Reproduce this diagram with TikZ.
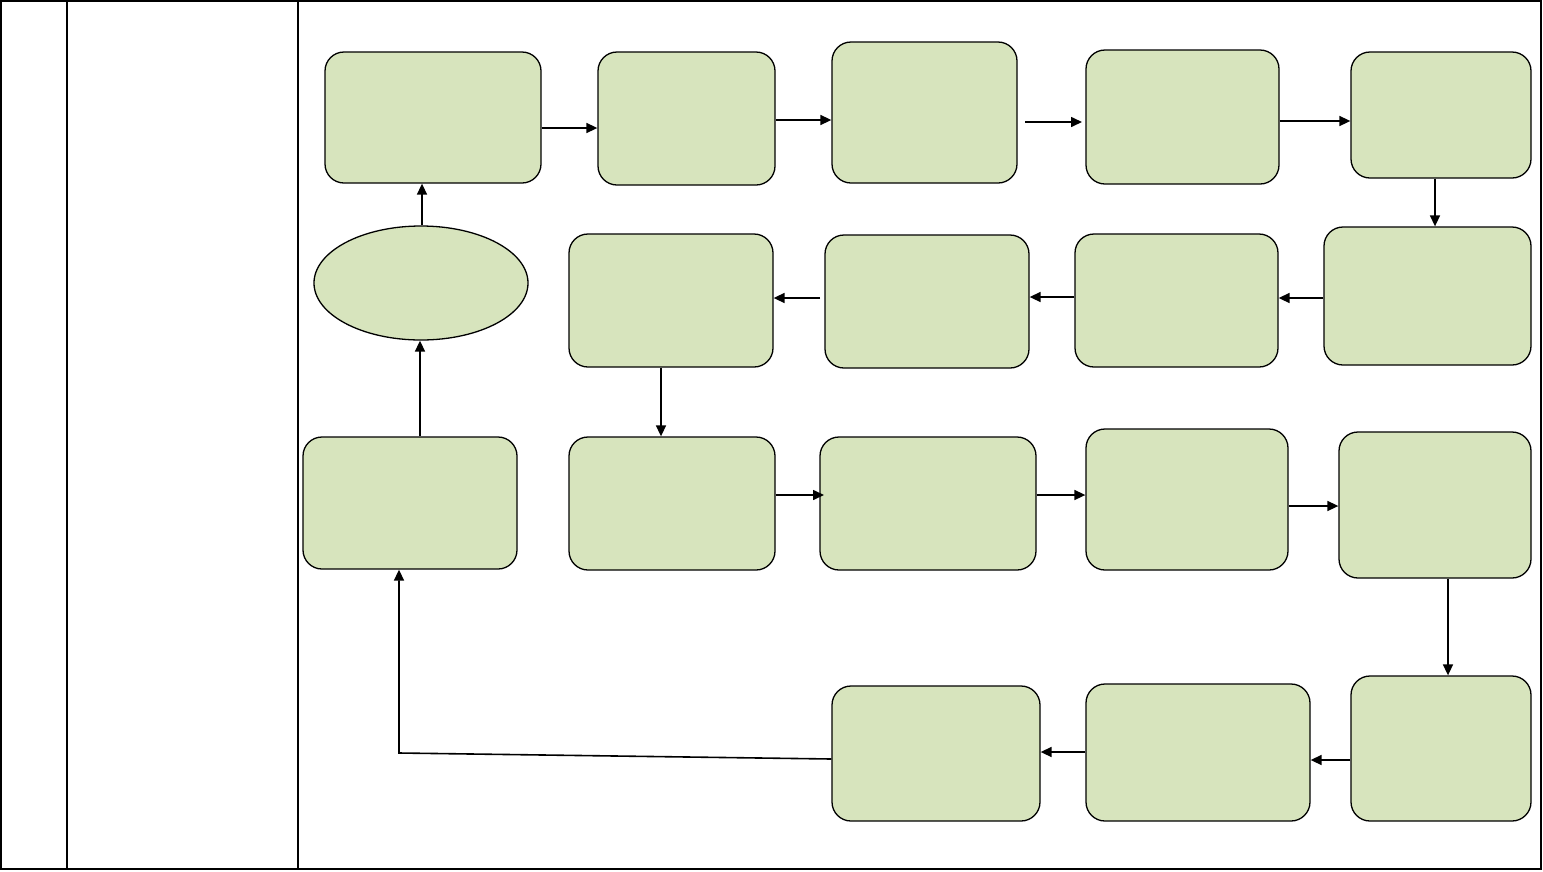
\documentclass[tikz,border=0pt]{standalone}
\usetikzlibrary{arrows.meta,fit,shapes.geometric}
\definecolor{boxfill}{HTML}{D7E4BD}
\tikzset{
  box/.style={draw=black, fill=boxfill, line width=1.3pt, rounded corners=19pt, inner sep=0pt},
  oval/.style={draw=black, fill=boxfill, line width=1.3pt, ellipse, inner sep=0pt},
  arr/.style={draw=black, line width=1.6pt, -{Triangle[length=11pt,width=10pt]}},
  frame/.style={draw=black, line width=2pt}
}
\newcommand\bx[5]{\node[box, fit={(#2,#3) (#4,#5)}] (#1) {};}
\begin{document}
\begin{tikzpicture}[x=1pt,y=-1pt]
\useasboundingbox (0,0) rectangle (1543,871);
% table frame
\draw[frame] (1,1) rectangle (1541,869);
\draw[frame] (67,1) -- (67,869);
\draw[frame] (298,1) -- (298,869);
% row 1
\bx{A}{325}{52}{541}{183}
\bx{B}{598}{52}{775}{185}
\bx{C}{832}{42}{1017}{183}
\bx{D}{1086}{50}{1279}{184}
\bx{E}{1351}{52}{1531}{178}
% row 2
\bx{F}{1324}{227}{1531}{365}
\bx{G}{1075}{234}{1278}{367}
\bx{H}{825}{235}{1029}{368}
\bx{I}{569}{234}{773}{367}
\node[oval, minimum width=214pt, minimum height=114pt] (Ov) at (421,283) {};
% row 3
\bx{J}{303}{437}{517}{569}
\bx{K}{569}{437}{775}{570}
\bx{L}{820}{437}{1036}{570}
\bx{M}{1086}{429}{1288}{570}
\bx{N}{1339}{432}{1531}{578}
% row 4
\bx{O}{1351}{676}{1531}{821}
\bx{P}{1086}{684}{1310}{821}
\bx{Q}{832}{686}{1040}{821}
% connectors
\coordinate (cdstart) at (1025,122);
\coordinate (cdend) at (1082,122);
\coordinate (histart) at (820,298);
\coordinate (klend) at (824,495);
\draw[arr] (A.east |- 0,128) -- (B.west |- 0,128);
\draw[arr] (B.east |- 0,120) -- (C.west |- 0,120);
\draw[arr] (cdstart) -- (cdend);
\draw[arr] (D.east |- 0,121) -- (E.west |- 0,121);
\draw[arr] (E.south -| 1435,0) -- (F.north -| 1435,0);
\draw[arr] (F.west |- 0,298) -- (G.east |- 0,298);
\draw[arr] (G.west |- 0,297) -- (H.east |- 0,297);
\draw[arr] (histart) -- (I.east |- histart);
\draw[arr] (I.south -| 661,0) -- (K.north -| 661,0);
\draw[arr] (K.east |- klend) -- (klend);
\draw[arr] (L.east |- 0,495) -- (M.west |- 0,495);
\draw[arr] (M.east |- 0,506) -- (N.west |- 0,506);
\draw[arr] (N.south -| 1448,0) -- (O.north -| 1448,0);
\draw[arr] (O.west |- 0,760) -- (P.east |- 0,760);
\draw[arr] (P.west |- 0,752) -- (Q.east |- 0,752);
\coordinate (bend) at (399,753);
\draw[arr] (Q.west |- 0,759) -- (bend) -- (J.south -| bend);
\draw[arr] (J.north -| 420,0) -- (Ov.south -| 420,0);
\draw[arr] (Ov.north -| 422,0) -- (A.south -| 422,0);
\end{tikzpicture}
\end{document}
